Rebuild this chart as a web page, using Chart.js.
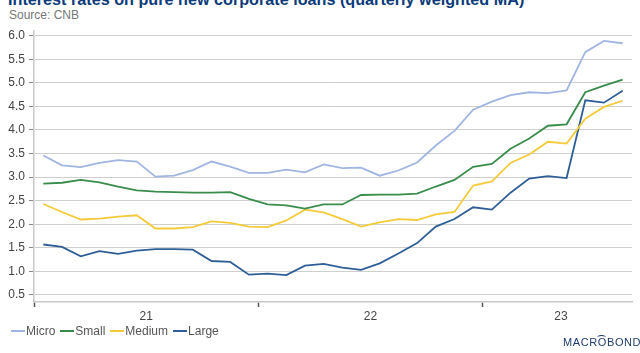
<!DOCTYPE html>
<html>
<head>
<meta charset="utf-8">
<script src="https://cdn.jsdelivr.net/npm/chart.js@4/dist/chart.umd.min.js"></script>
<style>
  body { margin: 0; width: 640px; height: 353px; overflow: hidden; background: #fff;
         font-family: "Liberation Sans", Arial, sans-serif; position: relative; }
  #title { position: absolute; left: 8px; top: -9px; font-size: 16.2px; line-height: 16px;
           font-weight: bold; color: #0d3b7a; white-space: nowrap; }
  #source { position: absolute; left: 9px; top: 9px; font-size: 12px; line-height: 12px; color: #777; }
  #wrap { position: absolute; left: 0; top: 0; width: 640px; height: 353px; }
  #legend { position: absolute; left: 11px; top: 324px; font-size: 12px; line-height: 14px;
            color: #555; display: flex; align-items: center; }
  #legend .swatch { display: inline-block; width: 14px; height: 2px; margin-right: 1px; }
  #legend .item { display: flex; align-items: center; margin-right: 5px; }
  #logo { position: absolute; left: 563px; top: 336px; font-size: 11px; letter-spacing: 0.6px;
          color: #1f3d6b; }
  #logo .arc { position: absolute; left: 34px; top: -1px; width: 9px; height: 4px;
               border-top: 1px solid #1f3d6b; border-radius: 50% 50% 0 0; }
</style>
</head>
<body>
<div id="title">Interest rates on pure new corporate loans (quarterly weighted MA)</div>
<div id="source">Source: CNB</div>
<div id="wrap"><canvas id="chart" width="640" height="353"></canvas></div>
<div id="legend"></div>
<div id="logo">MACROBOND<span class="arc"></span></div>
<script>
// monthly, Jan 2021 .. Aug 2023
const months = ['2021-01','2021-02','2021-03','2021-04','2021-05','2021-06','2021-07','2021-08','2021-09','2021-10','2021-11','2021-12',
                '2022-01','2022-02','2022-03','2022-04','2022-05','2022-06','2022-07','2022-08','2022-09','2022-10','2022-11','2022-12',
                '2023-01','2023-02','2023-03','2023-04','2023-05','2023-06','2023-07','2023-08'];

const micro  = [3.46,3.25,3.21,3.30,3.36,3.33,3.01,3.03,3.15,3.33,3.22,3.09,3.09,3.16,3.10,3.27,3.19,3.20,3.03,3.14,3.31,3.67,3.98,4.43,4.60,4.74,4.80,4.78,4.84,5.65,5.89,5.84];
const small  = [2.86,2.88,2.94,2.89,2.80,2.72,2.69,2.68,2.67,2.67,2.68,2.54,2.42,2.40,2.33,2.42,2.42,2.62,2.63,2.63,2.65,2.80,2.94,3.22,3.28,3.60,3.82,4.09,4.12,4.80,4.94,5.07];
const medium = [2.43,2.26,2.10,2.12,2.16,2.19,1.91,1.91,1.94,2.06,2.03,1.95,1.94,2.08,2.31,2.25,2.11,1.95,2.04,2.11,2.09,2.21,2.26,2.82,2.91,3.30,3.48,3.75,3.71,4.24,4.49,4.62];
const large  = [1.57,1.52,1.32,1.43,1.37,1.44,1.47,1.47,1.46,1.22,1.20,0.93,0.95,0.92,1.12,1.16,1.08,1.03,1.17,1.38,1.60,1.95,2.11,2.36,2.31,2.67,2.97,3.02,2.98,4.63,4.58,4.83];

const seriesNames  = ['Micro', 'Small', 'Medium', 'Large'];
const seriesColors = ['#a0b5e0', '#3a8c4c', '#f3cb3a', '#2f5e96'];

const yearBounds = [-0.5, 11.5, 23.5];
const yearLabels = [{ at: 5.5, text: '21' }, { at: 17.5, text: '22' }, { at: 27.7, text: '23' }];
const yTicks = [0.5,1.0,1.5,2.0,2.5,3.0,3.5,4.0,4.5,5.0,5.5,6.0];

const values = [micro, small, medium, large];

const datasets = values.map((vals, k) => ({
  label: seriesNames[k],
  data: vals.map((v, i) => ({ x: i, y: v })),
  borderColor: seriesColors[k],
  backgroundColor: seriesColors[k],
  borderWidth: 1.8,
  pointRadius: 0,
  tension: 0
}));

// legend
const legend = document.getElementById('legend');
seriesNames.forEach((name, k) => {
  const item = document.createElement('span');
  item.className = 'item';
  item.innerHTML = '<span class="swatch" style="background:' + seriesColors[k] + '"></span>' + name;
  legend.appendChild(item);
});

const isBound = v => yearBounds.includes(v);

new Chart(document.getElementById('chart'), {
  type: 'line',
  data: { datasets: datasets },
  options: {
    responsive: false,
    animation: false,
    layout: { padding: { top: 31, right: 8, left: 0, bottom: 0 } },
    plugins: { legend: { display: false }, tooltip: { enabled: false } },
    scales: {
      x: {
        type: 'linear',
        min: -0.5,
        max: 31.5,
        afterFit: s => { s.height = 51; },
        afterBuildTicks: s => {
          s.ticks = yearBounds.map(v => ({ value: v }))
            .concat(yearLabels.map(l => ({ value: l.at })));
        },
        ticks: {
          autoSkip: false,
          maxRotation: 0,
          padding: 2,
          color: '#444',
          font: { family: 'Liberation Sans', size: 12 },
          callback: v => {
            const l = yearLabels.find(y => y.at === v);
            return l ? l.text : '';
          }
        },
        grid: {
          drawOnChartArea: false,
          drawTicks: true,
          tickLength: 5,
          tickWidth: 1.5,
          tickColor: ctx => (ctx.tick && isBound(ctx.tick.value)) ? '#555' : 'rgba(0,0,0,0)'
        },
        border: { color: '#c8c8c8', width: 1.5 }
      },
      y: {
        min: 0.35,
        max: 6.1,
        afterFit: s => { s.width = 34; },
        afterBuildTicks: s => { s.ticks = yTicks.map(v => ({ value: v })); },
        ticks: {
          padding: 4,
          color: '#444',
          font: { family: 'Liberation Sans', size: 12 },
          callback: v => v.toFixed(1)
        },
        grid: {
          color: '#cfcfcf',
          lineWidth: 1,
          tickLength: 5,
          tickColor: '#888',
          tickBorderDash: [],
          borderDash: [1, 2]
        },
        border: { color: '#c8c8c8', width: 1.5, dash: [] }
      }
    }
  }
});
</script>
</body>
</html>
